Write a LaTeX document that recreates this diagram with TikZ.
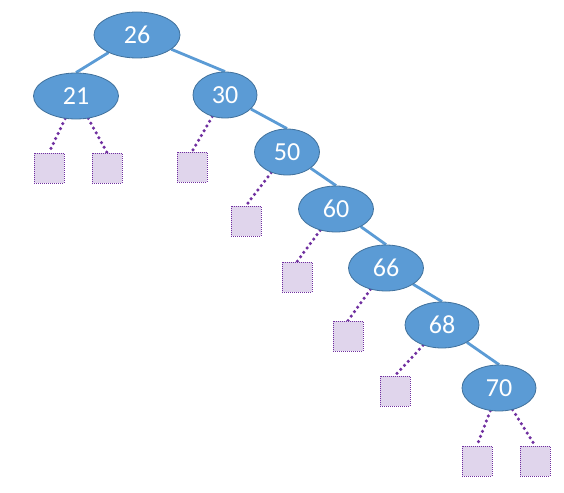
\documentclass[tikz,border=0pt]{standalone}
\usepackage{fontspec}
\setmainfont{Carlito}
\usetikzlibrary{shapes.geometric,backgrounds}
\definecolor{nodeblue}{HTML}{5B9BD5}
\definecolor{nodeborder}{HTML}{41719C}
\definecolor{leaffill}{HTML}{E0D5EC}
\definecolor{leafline}{HTML}{7030A0}
\tikzset{
  keynode/.style={ellipse, draw=nodeborder, line width=0.8pt, fill=nodeblue, text=white,
    minimum height=46pt, inner sep=0pt, font=\fontsize{26}{26}\selectfont},
  leafbox/.style={rectangle, draw=leafline, fill=leaffill, line width=0.8pt,
    dash pattern=on 1pt off 1pt, minimum width=30pt, minimum height=30pt, inner sep=0pt},
  treeedge/.style={draw=nodeblue, line width=2.8pt},
  leafedge/.style={draw=leafline, line width=3.5pt, line cap=round, dash pattern=on 0pt off 5.5pt}
}
\begin{document}
\begin{tikzpicture}[x=1pt,y=-1pt]
\useasboundingbox (0,0) rectangle (564,492);
% leaves
\node[leafbox] (l1) at (49,168) {};
\node[leafbox] (l2) at (107,168) {};
\node[leafbox] (l3) at (192,167) {};
\node[leafbox] (l4) at (246,221) {};
\node[leafbox] (l5) at (297,277) {};
\node[leafbox] (l6) at (348,336) {};
\node[leafbox] (l7) at (395,391) {};
\node[leafbox] (l8) at (477,461) {};
\node[leafbox] (l9) at (535,461) {};
% keys
\node[keynode, minimum width=86pt] (n26) at (137,35) {26};
\node[keynode, minimum width=85pt] (n21) at (76,96) {21};
\node[keynode, minimum width=64pt] (n30) at (225,95) {30};
\node[keynode, minimum width=65pt] (n50) at (287,152) {50};
\node[keynode, minimum width=75pt] (n60) at (336,209) {60};
\node[keynode, minimum width=75pt] (n66) at (386,268) {66};
\node[keynode, minimum width=74pt] (n68) at (442,325) {68};
\node[keynode, minimum width=74pt] (n70) at (499,388) {70};
% edges behind nodes
\begin{scope}[on background layer]
\draw[treeedge] (n26) -- (n21.north);
\draw[treeedge] (n26) -- (n30.north);
\draw[treeedge] (n30) -- (n50.north);
\draw[treeedge] (n50) -- (n60.north);
\draw[treeedge] (n60) -- (n66.north);
\draw[treeedge] (n66) -- (n68.north);
\draw[treeedge] (n68) -- (n70.north);
\draw[leafedge] (n21) -- (l1.north);
\draw[leafedge] (n21) -- (l2.north);
\draw[leafedge] (n30) -- (l3.north);
\draw[leafedge] (n50) -- (l4.north);
\draw[leafedge] (n60) -- (l5.north);
\draw[leafedge] (n66) -- (l6.north);
\draw[leafedge] (n68) -- (l7.north);
\draw[leafedge] (n70) -- (l8.north);
\draw[leafedge] (n70) -- (l9.north);
\end{scope}
\end{tikzpicture}
\end{document}
